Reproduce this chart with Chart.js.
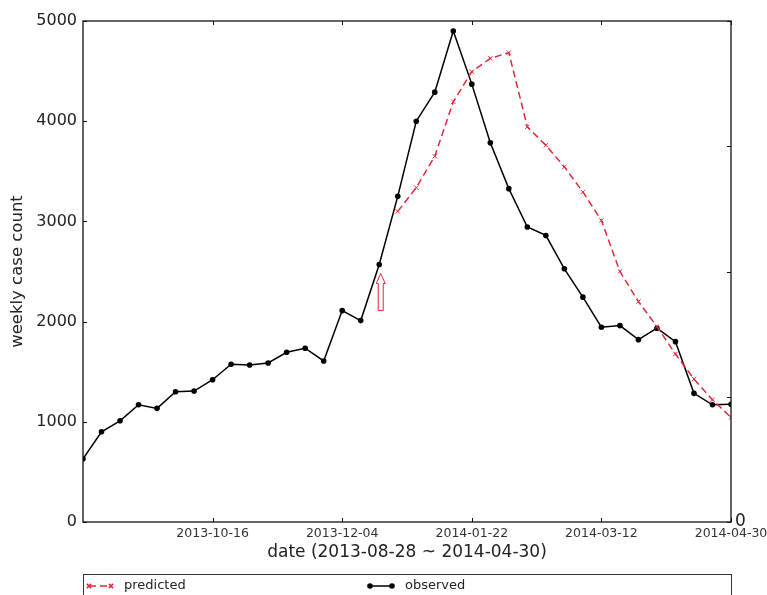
<!DOCTYPE html>
<html>
<head>
<meta charset="utf-8">
<script src="https://cdn.jsdelivr.net/npm/chart.js@4/dist/chart.umd.min.js"></script>
<style>
  html, body { margin: 0; padding: 0; background: #fff; }
</style>
</head>
<body>
<canvas id="chart" width="767" height="595"></canvas>
<script>
// week 0 = 2013-08-28 ... week 35 = 2014-04-30
const observed = [630, 900, 1010, 1170, 1134, 1300, 1307, 1420, 1574, 1567,
                  1587, 1694, 1734, 1607, 2110, 2010, 2570, 3250, 4000, 4290,
                  4900, 4370, 3784, 3327, 2944, 2860, 2527, 2244, 1944, 1960,
                  1820, 1934, 1800, 1284, 1170, 1175];
const predStart = 17;   // prediction starts on this week
const predicted = [3100, 3337, 3650, 4194, 4494, 4627, 4684, 3944, 3760, 3544,
                   3294, 3010, 2500, 2200, 1950, 1677, 1427, 1220, 1044];
const tickWeeks = [7, 14, 21, 28, 35];
const tickLabels = ['2013-10-16', '2013-12-04', '2014-01-22', '2014-03-12', '2014-04-30'];
// hollow arrow marking where the forecast begins
const arrowWeek = 16;
const arrowFrom = 2110;
const arrowTo = 2480;

const RED = '#e4283c';
const FONT = 'DejaVu Sans';

const obsPoints = observed.map((v, i) => ({ x: i, y: v }));
const predPoints = predicted.map((v, i) => ({ x: predStart + i, y: v }));

// frame, inward ticks, arrow and legend box (matplotlib look)
const extras = {
  id: 'extras',
  afterDraw(chart) {
    const ctx = chart.ctx;
    const a = chart.chartArea;
    const xs = chart.scales.x, ys = chart.scales.y, y2 = chart.scales.y2;
    ctx.save();

    // arrow
    const ax = xs.getPixelForValue(arrowWeek) + 1.5;
    const top = ys.getPixelForValue(arrowTo);
    const bot = ys.getPixelForValue(arrowFrom);
    ctx.strokeStyle = RED;
    ctx.lineWidth = 1;
    ctx.beginPath();
    ctx.moveTo(ax, top);
    ctx.lineTo(ax + 4.5, top + 10);
    ctx.lineTo(ax + 2.5, top + 10);
    ctx.lineTo(ax + 2.5, bot);
    ctx.lineTo(ax - 2.5, bot);
    ctx.lineTo(ax - 2.5, top + 10);
    ctx.lineTo(ax - 4.5, top + 10);
    ctx.closePath();
    ctx.stroke();

    // frame
    ctx.strokeStyle = '#111';
    ctx.lineWidth = 1.3;
    ctx.strokeRect(a.left, a.top, a.width, a.height);

    // ticks pointing inward
    ctx.lineWidth = 1;
    ctx.beginPath();
    xs.ticks.forEach(t => {
      const px = Math.round(xs.getPixelForValue(t.value)) + 0.5;
      ctx.moveTo(px, a.bottom); ctx.lineTo(px, a.bottom - 4);
      ctx.moveTo(px, a.top); ctx.lineTo(px, a.top + 4);
    });
    ys.ticks.forEach(t => {
      const py = Math.round(ys.getPixelForValue(t.value)) + 0.5;
      ctx.moveTo(a.left, py); ctx.lineTo(a.left + 4, py);
    });
    y2.ticks.forEach(t => {
      const py = Math.round(y2.getPixelForValue(t.value)) + 0.5;
      ctx.moveTo(a.right, py); ctx.lineTo(a.right - 4, py);
    });
    ctx.stroke();

    // legend
    const lgTop = a.bottom + 52;
    ctx.fillStyle = '#fff';
    ctx.fillRect(a.left, lgTop, a.width, 40);
    ctx.strokeStyle = '#333';
    ctx.lineWidth = 1;
    ctx.strokeRect(a.left + 0.5, lgTop + 0.5, a.width, 40);
    const rowY = lgTop + 12;
    chart.data.datasets.forEach((ds, i) => {
      const x0 = a.left + 6 + i * 281;
      const x1 = x0 + 22;
      ctx.strokeStyle = ds.borderColor;
      ctx.lineWidth = ds.borderWidth;
      ctx.setLineDash(ds.borderDash || []);
      ctx.beginPath();
      ctx.moveTo(x0, rowY); ctx.lineTo(x1, rowY);
      ctx.stroke();
      ctx.setLineDash([]);
      ctx.fillStyle = ds.pointBackgroundColor;
      ctx.strokeStyle = ds.pointBorderColor;
      [x0, x1].forEach(px => {
        Chart.helpers.drawPoint(ctx, {
          pointStyle: ds.pointStyle, radius: ds.pointRadius,
          rotation: 0, borderWidth: ds.pointBorderWidth
        }, px, rowY);
      });
      ctx.fillStyle = '#222';
      ctx.font = '13px "' + FONT + '"';
      ctx.textBaseline = 'middle';
      ctx.textAlign = 'left';
      ctx.fillText(ds.label, x1 + 13, rowY);
    });
    ctx.restore();
  }
};

new Chart(document.getElementById('chart'), {
  type: 'line',
  data: {
    datasets: [
      {
        label: 'predicted',
        data: predPoints,
        borderColor: RED,
        borderWidth: 1.5,
        borderDash: [7, 4],
        pointStyle: 'crossRot',
        pointRadius: 3,
        pointBorderWidth: 1,
        pointBorderColor: RED,
        pointBackgroundColor: RED,
        tension: 0,
        fill: false
      },
      {
        label: 'observed',
        data: obsPoints,
        borderColor: '#000',
        borderWidth: 1.5,
        pointStyle: 'circle',
        pointRadius: 2.8,
        pointBorderWidth: 0,
        pointBorderColor: '#000',
        pointBackgroundColor: '#000',
        tension: 0,
        fill: false
      }
    ]
  },
  options: {
    responsive: false,
    animation: false,
    layout: { padding: { top: 21, left: 0, right: 0, bottom: 0 } },
    plugins: {
      legend: { display: false },
      tooltip: { enabled: false }
    },
    scales: {
      x: {
        type: 'linear',
        min: 0,
        max: 35,
        afterBuildTicks: s => { s.ticks = tickWeeks.map(v => ({ value: v })); },
        afterFit: s => { s.height = 73; s.paddingLeft = 0; s.paddingRight = 0; },
        grid: { display: false, drawTicks: false },
        border: { display: false },
        ticks: {
          autoSkip: false,
          maxRotation: 0,
          padding: 4,
          color: '#333',
          font: { family: FONT, size: 12.5 },
          callback: v => tickLabels[tickWeeks.indexOf(v)] || ''
        },
        title: {
          display: true,
          text: 'date (2013-08-28 ~ 2014-04-30)',
          color: '#222',
          font: { family: FONT, size: 17 },
          padding: { top: 0, bottom: 32 }
        }
      },
      y: {
        position: 'left',
        min: 0,
        max: 5000,
        afterFit: s => { s.width = 83; s.paddingTop = 0; s.paddingBottom = 0; },
        grid: { display: false, drawTicks: false },
        border: { display: false },
        ticks: {
          stepSize: 1000,
          padding: 6,
          color: '#222',
          font: { family: FONT, size: 16 },
          callback: v => String(v)
        },
        title: {
          display: true,
          text: 'weekly case count',
          color: '#222',
          font: { family: FONT, size: 16.5 },
          padding: { top: 8, bottom: 0 }
        }
      },
      y2: {
        position: 'right',
        min: 0,
        max: 4,
        afterFit: s => { s.width = 36; s.paddingTop = 0; s.paddingBottom = 0; },
        grid: { display: false, drawTicks: false },
        border: { display: false },
        ticks: {
          stepSize: 1,
          padding: 4,
          color: '#222',
          font: { family: FONT, size: 17 },
          callback: v => (v === 0 ? '0' : '')
        }
      }
    }
  },
  plugins: [extras]
});
</script>
</body>
</html>
